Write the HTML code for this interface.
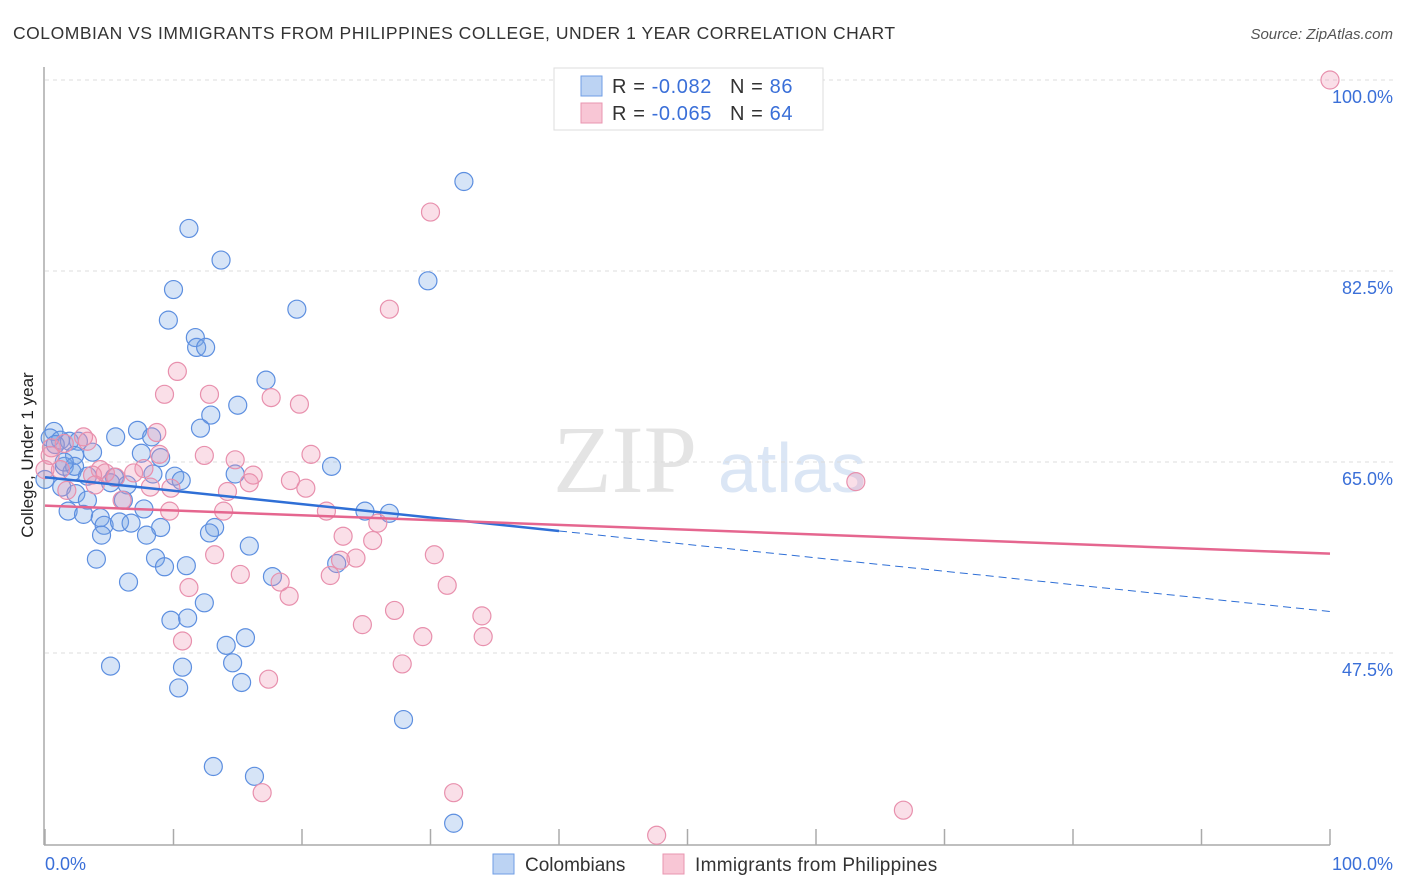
<!DOCTYPE html>
<html><head><meta charset="utf-8"><style>
body{margin:0;background:#fff;font-family:"Liberation Sans",sans-serif;}
svg{display:block}
</style></head><body>
<svg width="1406" height="892" viewBox="0 0 1406 892">
<text x="13" y="39" font-size="17.5" fill="#333" letter-spacing="0.53">COLOMBIAN VS IMMIGRANTS FROM PHILIPPINES COLLEGE, UNDER 1 YEAR CORRELATION CHART</text>
<text x="1393" y="39" font-size="15" fill="#555" font-style="italic" text-anchor="end">Source: ZipAtlas.com</text>
<g>
<text x="553" y="492" font-family="Liberation Serif,serif" font-size="96" fill="#e4e4e4">ZIP</text>
<text x="718" y="492" font-size="70" fill="#dbe6f5">atlas</text>
</g>
<g id="grid"></g>
<line x1="44" y1="67" x2="44" y2="845" stroke="#aaa" stroke-width="1.5"/>
<line x1="44" y1="845" x2="1330" y2="845" stroke="#aaa" stroke-width="1.5"/>
<g id="ticks"></g>
<text x="33" y="455" font-size="17" fill="#222" text-anchor="middle" transform="rotate(-90 33 455)">College, Under 1 year</text>
<text x="45" y="870" font-size="18" fill="#3a6fd8">0.0%</text>
<text x="1393" y="870" font-size="18" fill="#3a6fd8" text-anchor="end">100.0%</text>
<g id="pts"></g>
<g id="trend"></g>
<g>
<rect x="554" y="68" width="269" height="62" fill="#fff" stroke="#ddd"/>
<rect x="581" y="76" width="21" height="20" fill="#bcd3f3" stroke="#6f9ee6"/>
<rect x="581" y="103" width="21" height="20" fill="#f8c6d5" stroke="#e995b0"/>
<text x="612" y="93" font-size="20" fill="#333" letter-spacing="0.6">R = <tspan fill="#3a6fd8">-0.082</tspan><tspan dx="18">N = </tspan><tspan fill="#3a6fd8">86</tspan></text>
<text x="612" y="120" font-size="20" fill="#333" letter-spacing="0.6">R = <tspan fill="#3a6fd8">-0.065</tspan><tspan dx="18">N = </tspan><tspan fill="#3a6fd8">64</tspan></text>
</g>
<g>
<rect x="493" y="854" width="21" height="20" fill="#bcd3f3" stroke="#6f9ee6"/>
<text x="525" y="871" font-size="19" fill="#333">Colombians</text>
<rect x="663" y="854" width="21" height="20" fill="#f8c6d5" stroke="#e995b0"/>
<text x="695" y="871" font-size="19" fill="#333" letter-spacing="0.3">Immigrants from Philippines</text>
</g>
</svg>
<script>
const yTicks=[100,82.5,65,47.5];
const yTickLabels=["100.0%","82.5%","65.0%","47.5%"];
const xTicks=[0,10,20,30,40,50,60,70,80,90,100];
const blueX=[32.6,11.2,13.7,29.8,10.0,19.6,9.6,11.7,11.8,12.5,17.2,15.0,12.9,12.1,0.7,0.4,5.5,7.2,8.3,1.2,1.9,2.6,3.7,7.5,9.0,2.3,1.5,2.1,3.3,5.4,8.4,10.1,10.6,14.8,22.3,1.3,2.4,3.3,6.4,5.1,6.1,7.7,1.8,3.0,4.3,4.6,5.8,6.7,9.0,13.2,12.8,24.9,26.8,4.4,7.9,15.9,4.0,8.6,9.3,11.0,22.7,6.5,17.7,12.4,9.8,11.1,14.1,15.6,5.1,10.7,14.6,10.4,15.3,27.9,13.1,16.3,31.8,0.0,2.3,0.8,1.5];
const blueY=[90.7,86.4,83.5,81.6,80.8,79.0,78.0,76.4,75.5,75.5,72.5,70.2,69.3,68.1,67.8,67.2,67.3,67.9,67.3,67.0,66.9,66.9,65.9,65.8,65.4,65.6,64.6,64.1,63.7,63.6,63.9,63.7,63.3,63.9,64.6,62.7,62.1,61.5,62.9,63.1,61.5,60.7,60.5,60.2,59.9,59.2,59.5,59.4,59.0,59.0,58.5,60.5,60.3,58.3,58.3,57.3,56.1,56.2,55.4,55.5,55.7,54.0,54.5,52.1,50.5,50.7,48.2,48.9,46.3,46.2,46.6,44.3,44.8,41.4,37.1,36.2,31.9,63.4,64.6,66.6,65.0];
const pinkX=[100,30.0,26.8,10.3,9.3,12.8,17.6,19.8,8.7,3.0,3.3,0.5,1.5,12.4,14.8,20.7,8.9,7.7,4.3,4.7,3.7,5.5,6.9,16.2,19.1,15.9,20.3,8.2,9.8,14.2,6.0,1.2,1.7,3.9,21.9,9.7,13.9,25.9,23.2,25.5,30.3,13.2,24.2,23.0,15.2,22.2,18.3,31.3,11.2,19.0,27.2,34.0,24.7,29.4,34.1,10.7,27.8,17.4,16.9,31.8,47.6,66.8,63.1,0,0.4];
const pinkY=[100,87.9,79.0,73.3,71.2,71.2,70.9,70.3,67.7,67.3,66.9,66.3,66.7,65.6,65.2,65.7,65.7,64.4,64.3,64.0,63.8,63.6,64.0,63.8,63.3,63.1,62.6,62.7,62.6,62.3,61.5,64.3,62.4,62.9,60.5,60.5,60.5,59.4,58.2,57.8,56.5,56.5,56.2,56.0,54.7,54.6,54.0,53.7,53.5,52.7,51.4,50.9,50.1,49.0,49.0,48.6,46.5,45.1,34.7,34.7,30.8,33.1,63.2,64.3,65.6];
const blueTrend=[63.6,51.3];
const blueSolidEnd=40;
const pinkTrend=[61.0,56.6];
const X=v=>45+v*12.85, Y=v=>80+(100-v)*191/17.5;
const NS="http://www.w3.org/2000/svg";
function mk(t,a,p){const e=document.createElementNS(NS,t);for(const k in a)e.setAttribute(k,a[k]);p.appendChild(e);return e;}
const grid=document.getElementById('grid');
yTicks.forEach((t,i)=>{
 const l=mk('line',{x1:45,x2:1393,y1:Y(t),y2:Y(t),stroke:'#dcdcdc','stroke-dasharray':'4,4'},grid);
 
 
 const tx=mk('text',{x:1393,y:Y(t)+23,'font-size':18,fill:'#3a6fd8','text-anchor':'end'},grid);
 tx.textContent=yTickLabels[i];
 
 
});
const tk=document.getElementById('ticks');
xTicks.forEach(t=>{
 const l=mk('line',{x1:X(t),x2:X(t),y1:829,y2:845,stroke:'#aaa','stroke-width':1.5},tk);
 
 
});
const pts=document.getElementById('pts');
blueX.forEach((x,i)=>{
 const c=mk('circle',{cx:X(x),cy:Y(blueY[i]),r:9,fill:'rgba(120,165,230,0.3)',stroke:'#5d8fe0','stroke-width':1.2},pts);
 
 
});
pinkX.forEach((x,i)=>{
 const c=mk('circle',{cx:X(x),cy:Y(pinkY[i]),r:9,fill:'rgba(240,150,180,0.3)',stroke:'#e890ad','stroke-width':1.2},pts);
 
 
});
const tr=document.getElementById('trend');
const bAt=v=>blueTrend[0]+(blueTrend[1]-blueTrend[0])*v/100;
let l1=mk('line',{x1:X(0),y1:Y(bAt(0)),x2:X(blueSolidEnd),y2:Y(bAt(blueSolidEnd)),stroke:'#2f6fd6','stroke-width':2.5},tr);


let l2=mk('line',{x1:X(blueSolidEnd),y1:Y(bAt(blueSolidEnd)),x2:X(100),y2:Y(bAt(100)),stroke:'#2f6fd6','stroke-width':1,'stroke-dasharray':'8,5'},tr);


let l3=mk('line',{x1:X(0),y1:Y(pinkTrend[0]),x2:X(100),y2:Y(pinkTrend[1]),stroke:'#e5668f','stroke-width':2.5},tr);


</script>
</body></html>
